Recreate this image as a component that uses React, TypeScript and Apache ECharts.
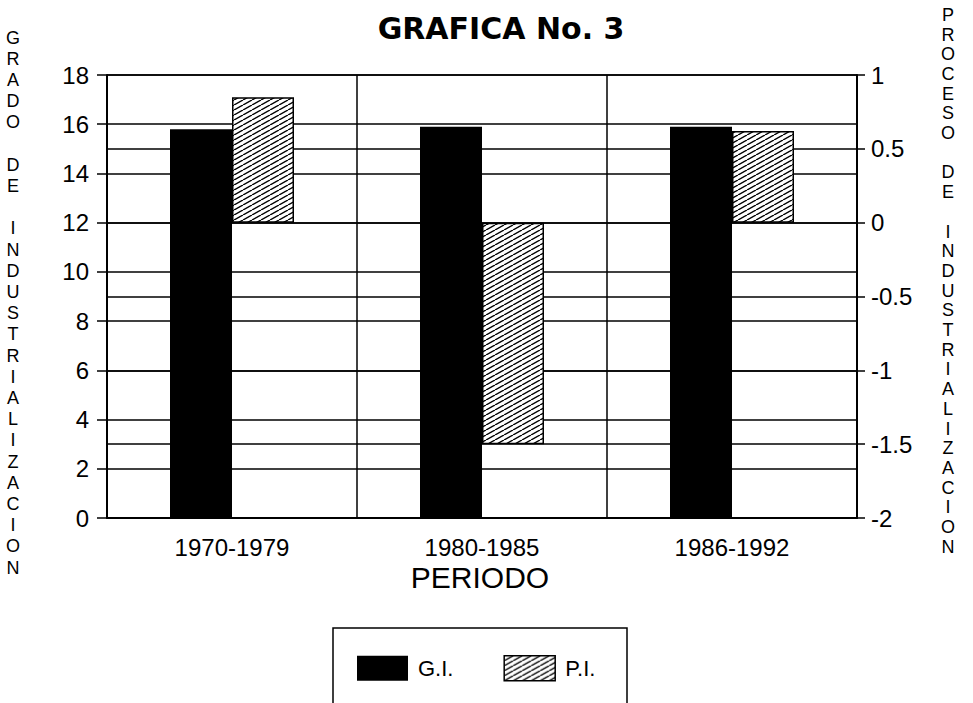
import React, { useEffect, useRef } from "react";
import * as echarts from "echarts";

const categories = ["1970-1979", "1980-1985", "1986-1992"];
const giValues = [15.8, 15.9, 15.9];
const piValues = [0.85, -1.5, 0.62];
const seriesNames = ["G.I.", "P.I."];
const titleText = "GRAFICA No. 3";
const xAxisName = "PERIODO";
const leftAxisName = "GRADO DE INDUSTRIALIZACION";
const rightAxisName = "PROCESO DE INDUSTRIALIZACION";

const FONT = "Liberation Sans";

function verticalText(s: string): string {
  return s
    .split(" ")
    .map((w) => w.split("").join("\n"))
    .join("\n\n");
}

function makeHatch(): string {
  const c = document.createElement("canvas");
  c.width = 9;
  c.height = 5;
  const ctx = c.getContext("2d")!;
  ctx.fillStyle = "#fff";
  ctx.fillRect(0, 0, 9, 5);
  ctx.strokeStyle = "#000";
  ctx.lineWidth = 1.4;
  for (const dx of [-9, 0, 9]) {
    ctx.beginPath();
    ctx.moveTo(dx, 5);
    ctx.lineTo(dx + 9, 0);
    ctx.stroke();
  }
  return c.toDataURL();
}

export default function App() {
  const ref = useRef<HTMLDivElement>(null);
  useEffect(() => {
    if (!ref.current) return;
    const chart = echarts.init(ref.current, undefined, { renderer: "svg" });
    const hatch = {
      image: makeHatch(),
      repeat: "repeat",
      imageWidth: 9,
      imageHeight: 5,
    };
    const option: any = {
      animation: false,
      backgroundColor: "#fff",
      textStyle: { fontFamily: FONT, color: "#000" },
      grid: { left: 107, right: 116, top: 75, bottom: 185, containLabel: false },
      xAxis: {
        type: "category",
        data: categories,
        axisLine: { lineStyle: { color: "#000", width: 2 } },
        axisTick: { alignWithLabel: true, length: 9, lineStyle: { color: "#000", width: 1.5 } },
        axisLabel: { fontSize: 24, lineHeight: 24, color: "#000", margin: 17, fontFamily: FONT },
        splitLine: { show: true, lineStyle: { color: "#000", width: 1.5 } },
      },
      yAxis: [
        {
          type: "value",
          min: 0,
          max: 18,
          interval: 2,
          position: "left",
          axisLine: { show: true, lineStyle: { color: "#000", width: 2 } },
          axisTick: { show: true, length: 10, lineStyle: { color: "#000", width: 1.5 } },
          axisLabel: { fontSize: 24, color: "#000", margin: 18, fontFamily: FONT },
          splitLine: { show: true, lineStyle: { color: "#000", width: 1.5 } },
        },
        {
          type: "value",
          min: -2,
          max: 1,
          interval: 0.5,
          position: "right",
          axisLine: { show: true, lineStyle: { color: "#000", width: 2 } },
          axisTick: { show: true, length: 8, lineStyle: { color: "#000", width: 1.5 } },
          axisLabel: { fontSize: 24, color: "#000", margin: 14, fontFamily: FONT },
          splitLine: { show: true, lineStyle: { color: "#000", width: 1.5 } },
        },
      ],
      legend: {
        left: 357,
        top: 655,
        padding: 0,
        itemWidth: 51,
        itemHeight: 25,
        itemGap: 50,
        icon: "rect",
        textStyle: { fontSize: 22, color: "#000", fontFamily: FONT, padding: [0, 0, 0, 5] },
        data: [
          { name: seriesNames[0] },
          { name: seriesNames[1], itemStyle: { borderColor: "#000", borderWidth: 1.5 } },
        ],
      },
      series: [
        {
          name: seriesNames[0],
          type: "bar",
          yAxisIndex: 0,
          data: giValues,
          barWidth: 62,
          barGap: "0%",
          itemStyle: { color: "#000" },
        },
        {
          name: seriesNames[1],
          type: "bar",
          yAxisIndex: 1,
          data: piValues,
          barWidth: 62,
          barGap: "0%",
          itemStyle: { color: hatch, borderColor: "#000", borderWidth: 1.5 },
        },
      ],
      graphic: [
        {
          type: "text",
          x: 501,
          y: 28,
          style: {
            text: titleText,
            fill: "#000",
            fontFamily: "DejaVu Sans",
            fontWeight: "bold",
            fontSize: 30,
            textAlign: "center",
            textVerticalAlign: "middle",
          },
        },
        {
          type: "text",
          x: 480,
          y: 562,
          style: {
            text: xAxisName,
            fill: "#000",
            fontFamily: FONT,
            fontSize: 30,
            lineHeight: 30,
            textAlign: "center",
            textVerticalAlign: "top",
          },
        },
        {
          type: "text",
          x: 13,
          y: 27,
          style: {
            text: verticalText(leftAxisName),
            fill: "#000",
            fontFamily: FONT,
            fontSize: 18,
            lineHeight: 21.2,
            textAlign: "center",
            textVerticalAlign: "top",
          },
        },
        {
          type: "text",
          x: 948,
          y: 5,
          style: {
            text: verticalText(rightAxisName),
            fill: "#000",
            fontFamily: FONT,
            fontSize: 18,
            lineHeight: 19.7,
            textAlign: "center",
            textVerticalAlign: "top",
          },
        },
        {
          type: "rect",
          shape: { x: 333, y: 628, width: 294, height: 100 },
          style: { fill: "none", stroke: "#000", lineWidth: 1.5 },
        },
      ],
    };
    chart.setOption(option);
    return () => chart.dispose();
  }, []);
  return (
    <div
      ref={ref}
      style={{ position: "fixed", left: 0, top: 0, width: 973, height: 703 }}
    />
  );
}
